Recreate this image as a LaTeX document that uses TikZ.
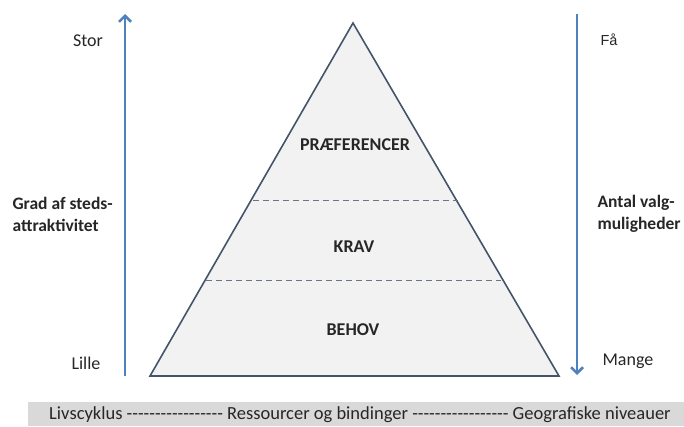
\documentclass[tikz,border=0pt]{standalone}
\usepackage{fontspec}
\setmainfont{Carlito}
\newfontfamily\arialish{Liberation Sans}
\usetikzlibrary{arrows.meta}
\definecolor{ablue}{RGB}{79,129,189}
\definecolor{tline}{RGB}{68,84,106}
\definecolor{tfill}{RGB}{242,242,242}
\definecolor{barfill}{RGB}{217,217,217}
\newcommand\hy{\mbox{-}}
\newcommand\hyrun{\hy\hy\hy\hy\hy\hy\hy\hy\hy\hy\hy\hy\hy\hy\hy\hy\hy}
\tikzset{
  axis/.style={draw=ablue, line width=2.5pt, -{Straight Barb[length=6pt,width=12pt,line width=2.5pt]}},
  lvl/.style={font=\bfseries\fontsize{18}{20}\selectfont, text=black!85},
  side/.style={font=\fontsize{18}{20}\selectfont, text=black!85},
  sideb/.style={font=\bfseries\fontsize{17.5}{22}\selectfont, text=black!85, align=left},
  divider/.style={draw=tline!80, dash pattern=on 6pt off 4pt, line width=1pt}
}
\begin{document}
\begin{tikzpicture}[x=1pt,y=-1pt]
\useasboundingbox (0,0) rectangle (684,426);
% pyramid
\coordinate (apex) at (353,23);
\coordinate (bl) at (150,376);
\coordinate (br) at (559,376);
\draw[tline, fill=tfill, line width=1.6pt, line join=miter] (apex) -- (br) -- (bl) -- cycle;
\coordinate (d1l) at (253,200);
\coordinate (d1r) at (458,200);
\coordinate (d2l) at (206,280);
\coordinate (d2r) at (501,280);
\draw[divider] (d1l) -- (d1r);
\draw[divider] (d2l) -- (d2r);
\node[lvl] (pref) at (355,145) {PRÆFERENCER};
\node[lvl] (krav) at (354,247) {KRAV};
\node[lvl] (behov) at (353,330) {BEHOV};
% axes
\coordinate (la0) at (125,376);
\coordinate (la1) at (125,14);
\draw[axis] (la0) -- (la1);
\coordinate (ra0) at (577,14);
\coordinate (ra1) at (577,375);
\draw[axis] (ra0) -- (ra1);
% side labels
\node[side] (stor) at (88,41) {Stor};
\node[side, anchor=east] (lille) at (104,363) {Lille};
\node[font=\arialish\fontsize{14.5}{16}\selectfont, text=black!85] (faa) at (609,40) {Få};
\node[side, anchor=west] (mange) at (599,361) {Mange};
\node[sideb, anchor=west] (grad) at (9,214) {Grad af steds-\\attraktivitet};
\node[sideb, anchor=west] (antal) at (594,214) {Antal valg-\\muligheder};
% bottom bar
\node[fill=barfill, minimum width=656pt, minimum height=24pt, inner sep=0pt, anchor=north west] (bar) at (28,402) {};
\node[font=\fontsize{18.5}{20}\selectfont, text=black!85] (bartext) at (360,415)
  {Livscyklus \hyrun\ Ressourcer og bindinger \hyrun\ Geografiske niveauer};
\end{tikzpicture}
\end{document}
